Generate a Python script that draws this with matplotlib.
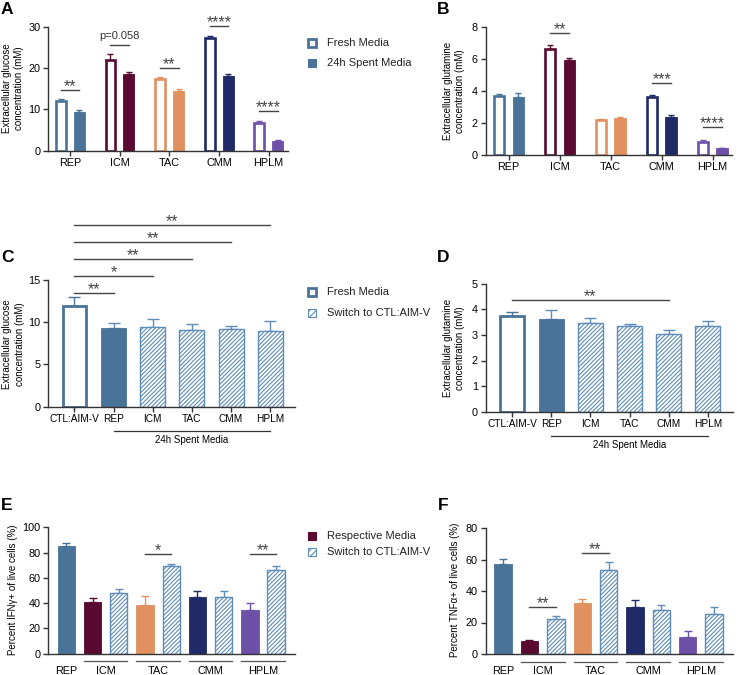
import numpy as np
import matplotlib
matplotlib.use('Agg')
import matplotlib.pyplot as plt
from matplotlib.patches import Rectangle

plt.rcParams['font.family'] = ['Liberation Sans', 'DejaVu Sans']
plt.rcParams['hatch.linewidth'] = 0.8

#data
groups = ['REP', 'ICM', 'TAC', 'CMM', 'HPLM']
grp_colors = ['#4a7399', '#5a0a31', '#e0915f', '#1f2a66', '#6d50a8']
blue = '#4a7399'
hatch_blue = '#5f8cb8'

glc_fresh = [12.0, 22.0, 17.3, 27.2, 6.8]
glc_fresh_err = [0.6, 1.5, 0.6, 0.5, 0.4]
glc_spent = [9.3, 18.6, 14.4, 18.1, 2.3]
glc_spent_err = [0.45, 0.35, 0.6, 0.35, 0.2]
glc_sig = [(0, 14.6, '**'), (1, 25.6, 'p=0.058'), (2, 20.1, '**'), (3, 30.2, '****'), (4, 9.7, '****')]

gln_fresh = [3.71, 6.66, 2.16, 3.64, 0.82]
gln_fresh_err = [0.12, 0.21, 0.06, 0.13, 0.08]
gln_spent = [3.60, 5.97, 2.28, 2.39, 0.40]
gln_spent_err = [0.25, 0.08, 0.11, 0.08, 0.04]
gln_sig = [(1, 7.62, '**'), (3, 4.52, '***'), (4, 1.76, '****')]

switch_labels = ['CTL:AIM-V', 'REP', 'ICM', 'TAC', 'CMM', 'HPLM']
sw_glc = [11.98, 9.33, 9.49, 9.09, 9.17, 8.93]
sw_glc_err = [0.98, 0.55, 0.9, 0.75, 0.43, 1.27]
sw_glc_sig = [(0, 1, 13.5, '**'), (0, 2, 15.5, '*'), (0, 3, 17.5, '**'), (0, 4, 19.5, '**'), (0, 5, 21.5, '**')]
sw_gln = [3.72, 3.61, 3.48, 3.35, 3.04, 3.35]
sw_gln_err = [0.16, 0.37, 0.17, 0.09, 0.16, 0.19]
sw_gln_sig = [(0, 4, 4.36, '**')]

# E/F bar order: REP, then (respective, switch) for each condition
ifng = [85.5, 40.6, 47.7, 38.8, 69.1, 44.6, 44.6, 34.3, 66.0]
ifng_err = [2.4, 3.2, 3.5, 6.6, 1.9, 4.7, 4.7, 5.5, 3.4]
ifng_sig = [(3, 4, 79.2, '*'), (7, 8, 79.2, '**')]
tnfa = [57.1, 8.25, 22.0, 32.6, 53.5, 30.1, 28.1, 10.8, 25.4]
tnfa_err = [3.4, 0.65, 2.1, 2.1, 4.7, 4.0, 3.2, 3.8, 4.7]
tnfa_sig = [(1, 2, 29.8, '**'), (3, 4, 64.3, '**')]

W, H = 737, 675
fig = plt.figure(figsize=(W/100, H/100), dpi=100)
HATCH = '////////'

def add_ax(l, r, top, bot):
	ax = fig.add_axes([l/W, 1-bot/H, (r-l)/W, (bot-top)/H])
	for s in ['top', 'right']:
		ax.spines[s].set_visible(False)
	for s in ['left', 'bottom']:
		ax.spines[s].set_linewidth(1.0)
		ax.spines[s].set_color('#333333')
	ax.tick_params(length=3.5, width=1.0, color='#333333', labelsize=7.8, pad=2)
	ax.pxbox = (l, r, top, bot)
	return ax

def yfrac(ax, py):
	l, r, top, bot = ax.pxbox
	return (bot-py)/(bot-top)

def ftext(px, py, s, **kw):
	fig.text(px/W, 1-py/H, s, **kw)

def errs(ax, x, y, e, c, cap=2.5):
	ax.errorbar(x, y, yerr=[np.zeros(len(e)), e], fmt='none', ecolor=c, elinewidth=1.0, capsize=cap, capthick=1.0, zorder=1)

def sig(ax, x1, x2, y, s):
	ax.plot([x1, x2], [y, y], color='#444444', lw=1.0, clip_on=False)
	if s.startswith('p'):
		ax.annotate(s, ((x1+x2)/2, y), xytext=(0, 3), textcoords='offset points', ha='center', va='bottom', fontsize=8, color='#333333', annotation_clip=False)
	else:
		ax.annotate(s, ((x1+x2)/2, y), xytext=(0, -3), textcoords='offset points', ha='center', va='bottom', fontsize=11.5, color='#444444', annotation_clip=False)

def legend_entry(px, py, kind, color, label):
	s = 8
	xy = (px/W, 1-(py+s/2)/H)
	if kind == 'open':
		r = Rectangle(xy, s/W, s/H, transform=fig.transFigure, facecolor='white', edgecolor=color, lw=2.0)
	elif kind == 'fill':
		r = Rectangle(xy, s/W, s/H, transform=fig.transFigure, facecolor=color, edgecolor=color, lw=0.8)
	else:
		r = Rectangle(xy, s/W, s/H, transform=fig.transFigure, facecolor='white', edgecolor=color, lw=0.8, hatch='/////')
	fig.add_artist(r)
	ftext(px+19, py, label, fontsize=8, va='center', ha='left', color='#222222')

# ---- A and B : fresh vs spent
def paired(ax, fresh, ferr, spent, serr, sigs, ymax, yticks):
	x = np.arange(len(groups))
	for i in range(len(groups)):
		c = grp_colors[i]
		ax.bar(x[i]-0.185, fresh[i], 0.2, facecolor='white', edgecolor=c, lw=1.9, zorder=2)
		ax.bar(x[i]+0.185, spent[i], 0.22, facecolor=c, edgecolor=c, lw=0.6, zorder=2)
		errs(ax, [x[i]-0.185], [fresh[i]], [ferr[i]], c)
		errs(ax, [x[i]+0.185], [spent[i]], [serr[i]], c)
	for g, y, s in sigs:
		sig(ax, g-0.185, g+0.185, y, s)
	ax.set_ylim(0, ymax)
	ax.set_yticks(yticks)
	ax.set_xticks(x)
	ax.set_xticklabels(groups)

axA = add_ax(48.3, 288, 26.7, 150.7)
paired(axA, glc_fresh, glc_fresh_err, glc_spent, glc_spent_err, glc_sig, 30, [0, 10, 20, 30])
axA.set_xlim(-0.437, 4.39)
ftext(13, 88, 'Extracellular glucose\nconcentration (mM)', rotation=90, fontsize=7, ha='center', va='center', linespacing=1.3)

axB = add_ax(485.5, 732, 27.3, 154.7)
paired(axB, gln_fresh, gln_fresh_err, gln_spent, gln_spent_err, gln_sig, 8, [0, 2, 4, 6, 8])
axB.set_xlim(-0.455, 4.38)
ftext(454, 91, 'Extracellular glutamine\nconcentration (mM)', rotation=90, fontsize=7, ha='center', va='center', linespacing=1.3)

legend_entry(308, 43, 'open', blue, 'Fresh Media')
legend_entry(308, 63, 'fill', blue, '24h Spent Media')

# ---- C and D : switch to CTL:AIM-V
def switched(ax, vals, err, sigs, ymax, yticks):
	x = np.arange(len(switch_labels))
	ax.bar(x[0], vals[0], 0.6, facecolor='white', edgecolor=blue, lw=2.0, zorder=2)
	ax.bar(x[1], vals[1], 0.64, facecolor=blue, edgecolor=blue, lw=0.6, zorder=2)
	ax.bar(x[2:], vals[2:], 0.64, facecolor='white', edgecolor=hatch_blue, lw=1.0, hatch=HATCH, zorder=2)
	errs(ax, x[:1], vals[:1], err[:1], blue, 4)
	errs(ax, x[1:], vals[1:], err[1:], hatch_blue, 4)
	for a, b, y, s in sigs:
		sig(ax, a, b, y, s)
	ax.set_ylim(0, ymax)
	ax.set_yticks(yticks)
	ax.set_xticks(x)
	ax.set_xticklabels(switch_labels)
	ax.tick_params(axis='x', labelsize=7.3)
	l, r, top, bot = ax.pxbox
	tr = ax.get_xaxis_transform()
	ax.plot([1, 5], [yfrac(ax, bot+24)]*2, color='#333333', lw=0.9, transform=tr, clip_on=False)
	ax.text(3, yfrac(ax, bot+33), '24h Spent Media', transform=tr, ha='center', va='center', fontsize=7)

axC = add_ax(48.3, 295, 280, 406.7)
switched(axC, sw_glc, sw_glc_err, sw_glc_sig, 15, [0, 5, 10, 15])
axC.set_xlim(-0.665, 5.63)
ftext(13.5, 344, 'Extracellular glucose\nconcentration (mM)', rotation=90, fontsize=7, ha='center', va='center', linespacing=1.3)

axD = add_ax(485.5, 733, 283.7, 411.7)
switched(axD, sw_gln, sw_gln_err, sw_gln_sig, 5, [0, 1, 2, 3, 4, 5])
axD.set_xlim(-0.68, 5.64)
ftext(454, 348, 'Extracellular glutamine\nconcentration (mM)', rotation=90, fontsize=7, ha='center', va='center', linespacing=1.3)

legend_entry(308, 292, 'open', blue, 'Fresh Media')
legend_entry(308, 313, 'hatch', hatch_blue, 'Switch to CTL:AIM-V')

# ---- E and F : cytokines
def cytokine(ax, vals, err, sigs, ymax, yticks):
	x = np.arange(len(vals))
	w = 0.66
	ax.bar(x[0], vals[0], w, facecolor=blue, edgecolor=blue, lw=0.6, zorder=2)
	errs(ax, x[:1], vals[:1], err[:1], blue, 3)
	for g in range(1, 5):
		c = grp_colors[g]
		i = 2*g-1
		ax.bar(x[i], vals[i], w, facecolor=c, edgecolor=c, lw=0.6, zorder=2)
		ax.bar(x[i+1], vals[i+1], w, facecolor='white', edgecolor=hatch_blue, lw=1.0, hatch=HATCH, zorder=2)
		errs(ax, [x[i]], [vals[i]], [err[i]], c, 3)
		errs(ax, [x[i+1]], [vals[i+1]], [err[i+1]], hatch_blue, 3)
	for a, b, y, s in sigs:
		sig(ax, a, b, y, s)
	ax.set_ylim(0, ymax)
	ax.set_yticks(yticks)
	ax.set_xticks([])
	l, r, top, bot = ax.pxbox
	tr = ax.get_xaxis_transform()
	ax.text(0, yfrac(ax, bot+17), groups[0], transform=tr, ha='center', va='center', fontsize=7.8)
	for g in range(1, 5):
		i = 2*g-1
		ax.plot([i-0.33, i+1.33], [yfrac(ax, bot+7.5)]*2, color='#555555', lw=0.9, transform=tr, clip_on=False)
		ax.text(i+0.5, yfrac(ax, bot+17), groups[g], transform=tr, ha='center', va='center', fontsize=7.8)

axE = add_ax(48.3, 295, 527.3, 653.7)
cytokine(axE, ifng, ifng_err, ifng_sig, 100, [0, 20, 40, 60, 80, 100])
axE.set_xlim(-0.687, 8.72)
ftext(13, 590, 'Percent IFNγ+ of live cells (%)', rotation=90, fontsize=7, ha='center', va='center')

axF = add_ax(485.5, 733, 528, 654)
cytokine(axF, tnfa, tnfa_err, tnfa_sig, 80, [0, 20, 40, 60, 80])
axF.set_xlim(-0.668, 8.72)
ftext(455, 590, 'Percent TNFα+ of live cells (%)', rotation=90, fontsize=7, ha='center', va='center')

legend_entry(308, 536, 'fill', grp_colors[1], 'Respective Media')
legend_entry(308, 552, 'hatch', hatch_blue, 'Switch to CTL:AIM-V')

# panel letters
for s, px, py in [('A', 7, 9), ('B', 443, 9), ('C', 7, 258), ('D', 443, 258), ('E', 7, 505), ('F', 443, 505)]:
	ftext(px, py, s, fontsize=12.5, fontweight='bold', ha='center', va='center')

plt.savefig('out.png', dpi=100)
